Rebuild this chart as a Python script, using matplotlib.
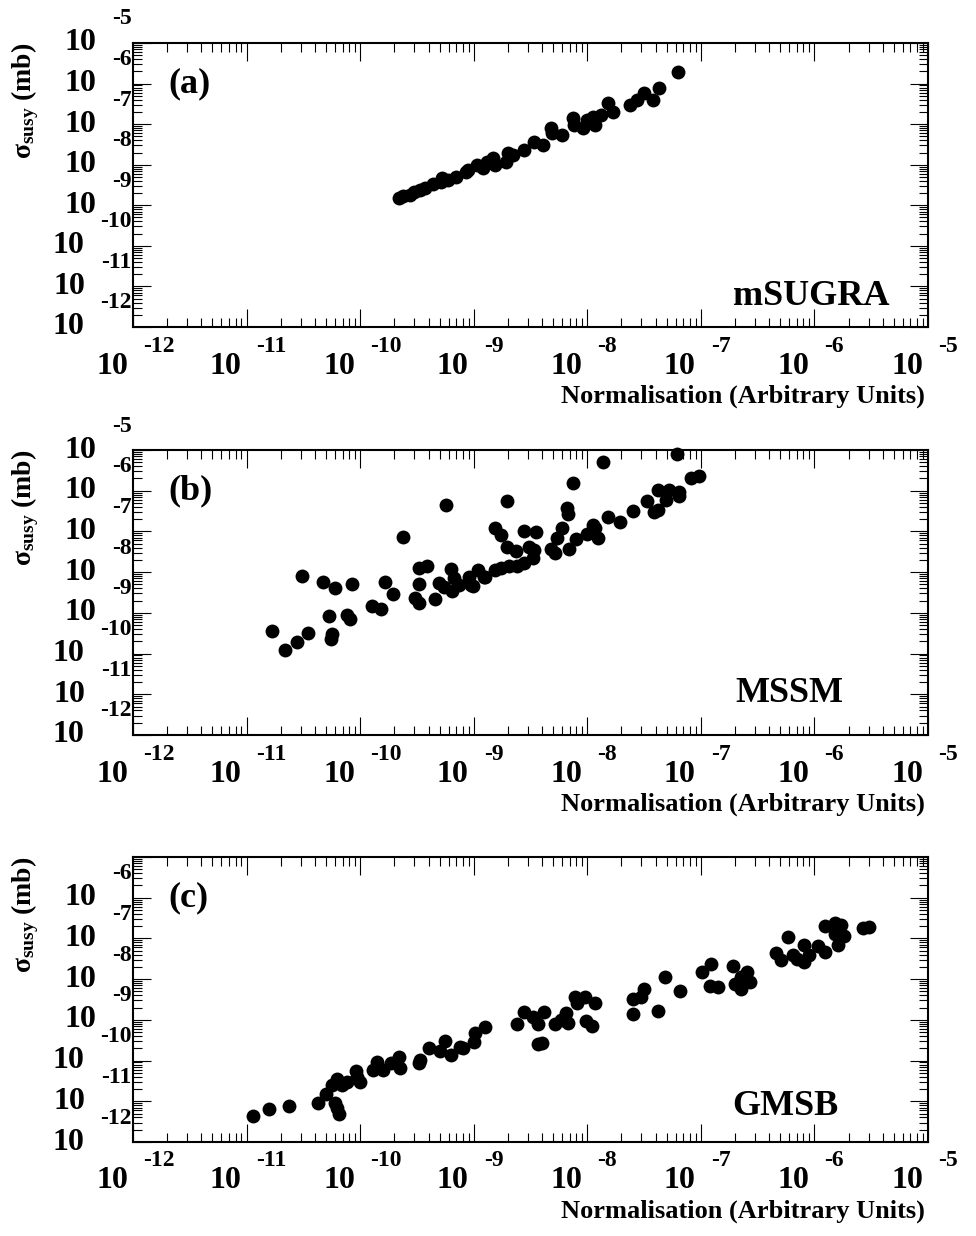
import matplotlib
matplotlib.use('Agg')
import matplotlib.pyplot as plt
import matplotlib.transforms as mtransforms
from matplotlib.ticker import LogLocator, NullFormatter
import numpy as np

plt.rcParams['font.family'] = ['Liberation Serif', 'DejaVu Serif']
plt.rcParams['font.weight'] = 'bold'
plt.rcParams['mathtext.fontset'] = 'custom'
plt.rcParams['mathtext.rm'] = 'Liberation Serif'
plt.rcParams['mathtext.bf'] = 'Liberation Serif:bold'
plt.rcParams['mathtext.it'] = 'Liberation Serif:italic'

# values, stored as log10
log_norm_a = [-9.66, -9.62, -9.56, -9.53, -9.47, -9.43, -9.36, -9.29, -9.28, -9.23,
              -9.16, -9.07, -9.05, -8.97, -8.92, -8.88, -8.83, -8.81, -8.72, -8.70,
              -8.65, -8.56, -8.47, -8.39, -8.32, -8.31, -8.22, -8.13, -8.12, -8.04,
              -8.00, -7.95, -7.93, -7.88, -7.82, -7.77, -7.62, -7.56, -7.50, -7.42,
              -7.37, -7.20]
log_sigma_a = [-8.82, -8.77, -8.74, -8.67, -8.62, -8.57, -8.47, -8.42, -8.33, -8.37,
               -8.30, -8.18, -8.13, -8.00, -8.08, -7.93, -7.83, -8.00, -7.93, -7.71,
               -7.76, -7.64, -7.44, -7.51, -7.09, -7.22, -7.27, -6.85, -7.02, -7.09,
               -6.90, -6.82, -7.02, -6.77, -6.48, -6.70, -6.53, -6.40, -6.23, -6.40,
               -6.11, -5.71]

log_norm_b = [-9.24, -9.62, -10.51, -10.33, -10.22, -10.07, -9.78, -9.71, -9.48, -9.41,
              -9.48, -9.20, -9.17, -9.31, -9.26, -9.19, -9.13, -9.04, -9.02, -8.96,
              -8.91, -9.52, -9.48, -9.34, -9.90, -9.82, -10.27, -10.12, -10.09, -10.78,
              -10.46, -10.56, -10.66, -10.25, -10.26, -7.86, -7.21, -8.13, -8.71, -8.18,
              -8.17, -7.82, -7.71, -7.60, -7.38, -7.28, -7.19, -7.19, -7.31, -7.47,
              -7.41, -7.38, -7.09, -7.02, -8.81, -8.76, -8.56, -8.45, -8.22, -8.27,
              -8.10, -7.95, -7.93, -8.00, -7.91, -8.71, -8.63, -8.51, -8.47, -8.32,
              -8.28, -8.16, -8.48, -8.56, -8.62, -8.69, -8.76, -8.81, -8.90, -9.01]
log_sigma_b = [-6.35, -7.13, -8.10, -8.24, -8.38, -8.30, -8.25, -8.54, -7.91, -7.85,
               -8.28, -7.92, -8.15, -8.26, -8.36, -8.46, -8.32, -8.11, -8.32, -7.95,
               -8.11, -8.64, -8.77, -8.65, -8.83, -8.91, -9.08, -9.05, -9.15, -9.44,
               -9.50, -9.71, -9.90, -9.52, -9.63, -5.29, -5.10, -5.82, -6.25, -6.43,
               -6.57, -6.64, -6.76, -6.50, -5.98, -5.98, -6.02, -6.13, -6.23, -6.25,
               -6.52, -6.47, -5.68, -5.64, -6.92, -7.09, -6.98, -7.02, -6.91, -7.17,
               -7.18, -6.83, -6.92, -7.07, -7.15, -7.38, -7.48, -7.39, -7.46, -7.42,
               -7.52, -7.44, -7.66, -7.77, -7.85, -7.85, -7.91, -7.95, -8.11, -8.34]

log_norm_c = [-10.94, -10.80, -10.63, -10.37, -10.30, -10.25, -10.20, -10.16, -10.12, -10.04,
              -10.03, -10.00, -10.22, -10.20, -10.19, -9.89, -9.85, -9.80, -9.73, -9.66,
              -9.65, -9.48, -9.47, -9.39, -9.30, -9.25, -9.20, -9.12, -9.09, -9.00,
              -8.99, -8.90, -8.62, -8.56, -8.48, -8.43, -8.38, -8.43, -8.40, -8.28,
              -8.23, -8.19, -8.17, -8.11, -8.09, -8.02, -7.93, -8.01, -7.96, -7.60,
              -7.60, -7.53, -7.50, -7.38, -7.32, -7.18, -6.99, -6.91, -6.92, -6.85,
              -6.72, -6.70, -6.65, -6.59, -6.57, -6.65, -6.23, -6.34, -6.29, -6.19,
              -6.15, -6.09, -6.09, -6.05, -5.97, -5.91, -5.91, -5.82, -5.77, -5.82,
              -5.74, -5.79, -5.57, -5.52]
log_sigma_c = [-11.36, -11.18, -11.12, -11.04, -10.81, -10.60, -10.46, -10.60, -10.52, -10.25,
               -10.41, -10.52, -11.05, -11.17, -11.30, -10.22, -10.03, -10.23, -10.05, -9.91,
               -10.19, -10.07, -9.99, -9.70, -9.76, -9.51, -9.87, -9.66, -9.70, -9.54,
               -9.32, -9.17, -9.10, -8.80, -8.94, -9.10, -8.80, -9.59, -9.56, -9.09,
               -9.00, -8.83, -9.07, -8.45, -8.59, -8.45, -8.58, -9.02, -9.15, -8.86,
               -8.50, -8.45, -8.25, -8.78, -7.94, -8.29, -7.82, -7.64, -8.17, -8.19,
               -7.68, -8.12, -8.23, -7.82, -8.06, -7.94, -6.96, -7.35, -7.53, -7.41,
               -7.51, -7.16, -7.57, -7.41, -7.19, -7.33, -6.70, -6.63, -6.67, -6.89,
               -6.94, -7.16, -6.75, -6.71]

models = ['mSUGRA', 'MSSM', 'GMSB']
tags = ['(a)', '(b)', '(c)']
x_decades = [-12, -11, -10, -9, -8, -7, -6, -5]
y_decades = [[-12, -11, -10, -9, -8, -7, -6, -5],
             [-12, -11, -10, -9, -8, -7, -6, -5],
             [-12, -11, -10, -9, -8, -7, -6]]
xs = [log_norm_a, log_norm_b, log_norm_c]
ys = [log_sigma_a, log_sigma_b, log_sigma_c]

fig = plt.figure(figsize=(9.76, 12.36), dpi=100)
W, H = 976.0, 1236.0
left, right = 133, 928
tops = [43, 450, 857]
bottoms = [327, 735, 1142]
model_pos = [(0.952, 0.109), (0.893, 0.147), (0.887, 0.126)]


def decade_labels(ax, xdec, ydec):
    for d in xdec:
        t1 = mtransforms.offset_copy(ax.get_xaxis_transform(), fig=fig, x=-5, y=-39, units='dots')
        t2 = mtransforms.offset_copy(ax.get_xaxis_transform(), fig=fig, x=10, y=-19, units='dots')
        ax.text(10.0 ** d, 0, '10', transform=t1, ha='right', va='center', fontsize=23)
        ax.text(10.0 ** d, 0, str(d), transform=t2, ha='left', va='center', fontsize=17)
    for d in ydec:
        t3 = mtransforms.offset_copy(ax.get_yaxis_transform(), fig=fig, x=-1, y=24, units='dots')
        e = ax.text(0, 10.0 ** d, str(d), transform=t3, ha='right', va='center', fontsize=17)
        ax.annotate('10', xy=(0, 0.5), xycoords=e, xytext=(-16, -24),
                    textcoords='offset pixels', ha='right', va='center', fontsize=23)


for i in range(3):
    ax = fig.add_axes([left / W, 1 - bottoms[i] / H, (right - left) / W,
                       (bottoms[i] - tops[i]) / H])
    ax.plot(10.0 ** np.array(xs[i]), 10.0 ** np.array(ys[i]), 'o', color='black',
            ms=10, mew=0, clip_on=False)
    ax.set_xscale('log')
    ax.set_yscale('log')
    ax.set_xlim(1e-12, 1e-5)
    ax.set_ylim(1e-12, 1e-5)
    for axis in (ax.xaxis, ax.yaxis):
        axis.set_major_locator(LogLocator(base=10, numticks=100))
        axis.set_minor_locator(LogLocator(base=10, subs=np.arange(2, 10), numticks=100))
        axis.set_minor_formatter(NullFormatter())
    ax.tick_params(which='both', direction='in', top=True, right=True,
                   labelbottom=False, labelleft=False, width=0.8)
    ax.tick_params(which='major', length=13)
    ax.tick_params(which='minor', length=6.5)
    for sp in ax.spines.values():
        sp.set_linewidth(1.5)
    decade_labels(ax, x_decades, y_decades[i])

    ax.text(0.044, 0.856, tags[i], transform=ax.transAxes, ha='left', va='center', fontsize=26)
    ax.text(model_pos[i][0], model_pos[i][1], models[i], transform=ax.transAxes,
            ha='right', va='center', fontsize=26)
    ax.text(925 / W, 1 - (bottoms[i] + 76) / H, 'Normalisation (Arbitrary Units)',
            transform=fig.transFigure, ha='right', va='baseline', fontsize=19)
    fig.text(25 / W, 1 - tops[i] / H, r'$\mathrm{\sigma}_{\mathbf{susy}}$ (mb)',
             rotation=90, ha='center', va='top', fontsize=20)

fig.savefig('out.png', dpi=100)
